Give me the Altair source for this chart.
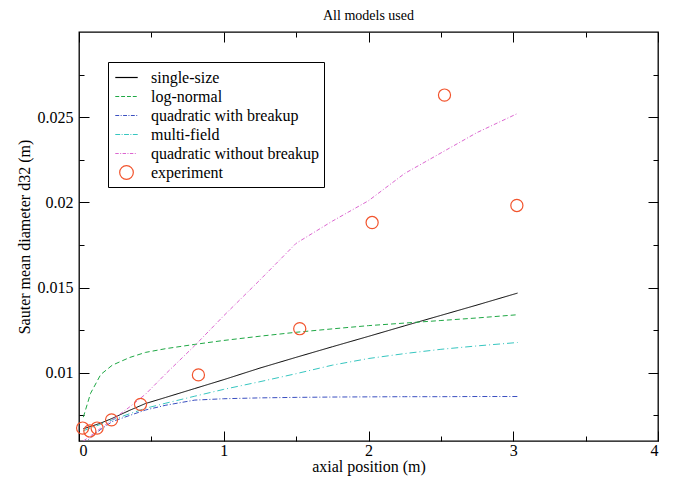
import altair as alt
import pandas as pd

# ---------------- data ----------------
x_model = [0.03, 0.08, 0.15, 0.23, 0.35, 0.46, 0.6, 0.8, 1.0, 1.25, 1.5, 1.75, 2.0, 2.25, 2.5, 2.75, 3.03]
single_size = [0.00672, 0.00685, 0.00705, 0.00733, 0.0078, 0.0082, 0.00856, 0.00908, 0.0096, 0.01028,
               0.01091, 0.01153, 0.01214, 0.01276, 0.01337, 0.01398, 0.01468]
log_normal = [0.0074, 0.0088, 0.0099, 0.01045, 0.0109, 0.0112, 0.01142, 0.01167, 0.0119, 0.01215,
              0.01238, 0.01258, 0.01277, 0.01292, 0.01307, 0.01322, 0.01341]
quad_breakup = [0.0058, 0.0062, 0.00668, 0.00714, 0.0075, 0.00782, 0.0081, 0.0084, 0.00848, 0.00853,
                0.00856, 0.00858, 0.00859, 0.0086, 0.0086, 0.00861, 0.00861]
multi_field = [0.0066, 0.00676, 0.00698, 0.00724, 0.0076, 0.00792, 0.00822, 0.00863, 0.00903, 0.00948,
               0.00995, 0.01045, 0.01084, 0.01113, 0.01138, 0.01158, 0.01178]
quad_no_breakup = [0.006, 0.0063, 0.00675, 0.00724, 0.008, 0.00875, 0.00995, 0.0116, 0.01335, 0.01545,
                   0.0176, 0.0189, 0.0201, 0.0217, 0.0229, 0.0241, 0.02522]

x_exp = [0.025, 0.075, 0.125, 0.225, 0.425, 0.825, 1.525, 2.025, 2.525, 3.025]
y_exp = [0.00676, 0.00659, 0.00676, 0.00724, 0.00815, 0.00988, 0.01259, 0.01882, 0.0263, 0.01982]

model_names = ["single-size", "log-normal", "quadratic with breakup", "multi-field", "quadratic without breakup"]
exp_name = "experiment"
all_names = model_names + [exp_name]

x_major = [0, 1, 2, 3, 4]
x_minor = [0.5, 1.5, 2.5, 3.5]
y_major = [0.01, 0.015, 0.02, 0.025]
y_minor = [0.0075, 0.0125, 0.0175, 0.0225, 0.0275]

# ---------------- styles ----------------
line_colors = ["#000000", "#1fa845", "#3a4fc0", "#36c6c0", "#dc66d0"]
exp_color = "#f2542d"
dashes = [[1, 0], [5, 3], [5, 2, 1, 2], [7, 3, 1, 3], [4, 2, 1, 2]]
legend_paths = [
    "M-1.15,0H1.15",
    "M-1.15,0H-0.75M-0.55,0H-0.15M0.05,0H0.45M0.65,0H1.05",
    "M-1.15,0H-0.75M-0.6,0H-0.5M-0.35,0H0.05M0.2,0H0.3M0.45,0H0.85M1.0,0H1.1",
    "M-1.15,0H-0.65M-0.5,0H-0.4M-0.25,0H0.25M0.4,0H0.5M0.65,0H1.15",
    "M-1.15,0H-0.8M-0.65,0H-0.55M-0.4,0H-0.05M0.1,0H0.2M0.35,0H0.7M0.85,0H0.95",
    "M0.7,0A0.7,0.7,0,1,1,-0.7,0A0.7,0.7,0,1,1,0.7,0Z",
]

FONT = "Liberation Serif, Times New Roman, Times, serif"
W, H = 579, 409

rows = []
for name, vals in zip(model_names, [single_size, log_normal, quad_breakup, multi_field, quad_no_breakup]):
    for xv, yv in zip(x_model, vals):
        rows.append({"x": xv, "y": yv, "series": name})
lines_df = pd.DataFrame(rows)
exp_df = pd.DataFrame({"x": x_exp, "y": y_exp, "series": [exp_name] * len(x_exp)})

xs = alt.Scale(domain=[0, 4], nice=False, zero=False)
ys = alt.Scale(domain=[0.006, 0.03], nice=False, zero=False)


def tick_axis(orient, offset, values, size):
    return alt.Axis(orient=orient, offset=offset, values=values, tickSize=size, labels=False,
                    domain=False, grid=False, title=None, tickColor="black", tickWidth=1)


lines = alt.Chart(lines_df).mark_line(clip=True, strokeWidth=1).encode(
    x=alt.X("x:Q", scale=xs, axis=alt.Axis(
        orient="bottom", values=x_major, format="d", ticks=False, domain=False, grid=False,
        title="axial position (m)", labelFont=FONT, labelFontSize=16, titleFont=FONT,
        titleFontSize=16, titleFontWeight="normal", labelPadding=1, titlePadding=0,
        labelColor="black", titleColor="black")),
    y=alt.Y("y:Q", scale=ys, axis=alt.Axis(
        orient="left", values=y_major, format=".3~f", ticks=False, domain=False, grid=False,
        title="Sauter mean diameter d32 (m)", labelFont=FONT, labelFontSize=16, titleFont=FONT,
        titleFontSize=16, titleFontWeight="normal", labelPadding=6, titlePadding=5,
        labelColor="black", titleColor="black")),
    stroke=alt.Stroke("series:N", scale=alt.Scale(domain=model_names, range=line_colors), legend=None),
    strokeDash=alt.StrokeDash("series:N", scale=alt.Scale(domain=model_names, range=dashes), legend=None),
)

leg = dict(orient="none", legendX=29, legendY=30, title=None, strokeColor="black", fillColor="white",
           padding=5, symbolOffset=3, labelOffset=14, labelFont=FONT, labelFontSize=16,
           labelColor="black", symbolSize=380, symbolStrokeWidth=1.2, rowPadding=0,
           labelLimit=400)

points = alt.Chart(exp_df).mark_point(filled=False, size=300, strokeWidth=1.2, opacity=1).encode(
    x=alt.X("x:Q", scale=xs, axis=tick_axis("top", -H, x_major, 10)),
    y=alt.Y("y:Q", scale=ys, axis=tick_axis("right", -W, y_major, 10)),
    color=alt.Color("series:N", scale=alt.Scale(domain=all_names, range=line_colors + [exp_color]),
                    legend=alt.Legend(**leg)),
    shape=alt.Shape("series:N", scale=alt.Scale(domain=all_names, range=legend_paths),
                    legend=alt.Legend(**leg)),
)

ticks_minor_bl = alt.Chart(exp_df).mark_point(opacity=0).encode(
    x=alt.X("x:Q", scale=xs, axis=tick_axis("top", -H, x_minor, 5)),
    y=alt.Y("y:Q", scale=ys, axis=tick_axis("right", -W, y_minor, 5)),
)
ticks_major_tr = alt.Chart(exp_df).mark_point(opacity=0).encode(
    x=alt.X("x:Q", scale=xs, axis=tick_axis("bottom", -H, x_major, 10)),
    y=alt.Y("y:Q", scale=ys, axis=tick_axis("left", -W, y_major, 10)),
)
ticks_minor_tr = alt.Chart(exp_df).mark_point(opacity=0).encode(
    x=alt.X("x:Q", scale=xs, axis=tick_axis("bottom", -H, x_minor, 5)),
    y=alt.Y("y:Q", scale=ys, axis=tick_axis("left", -W, y_minor, 5)),
)

chart = alt.layer(lines, points, ticks_minor_bl, ticks_major_tr, ticks_minor_tr).resolve_axis(
    x="independent", y="independent"
).properties(
    width=W, height=H,
    padding={"left": 79, "top": 32, "right": 15, "bottom": 40},
    autosize="none",
    title=alt.Title("All models used", font=FONT, fontSize=14, fontWeight="normal",
                    color="black", offset=9),
    background="white",
).configure_view(stroke="black", strokeWidth=1.3)

chart.save("out.html", embed_options={"renderer": "svg", "actions": False})
